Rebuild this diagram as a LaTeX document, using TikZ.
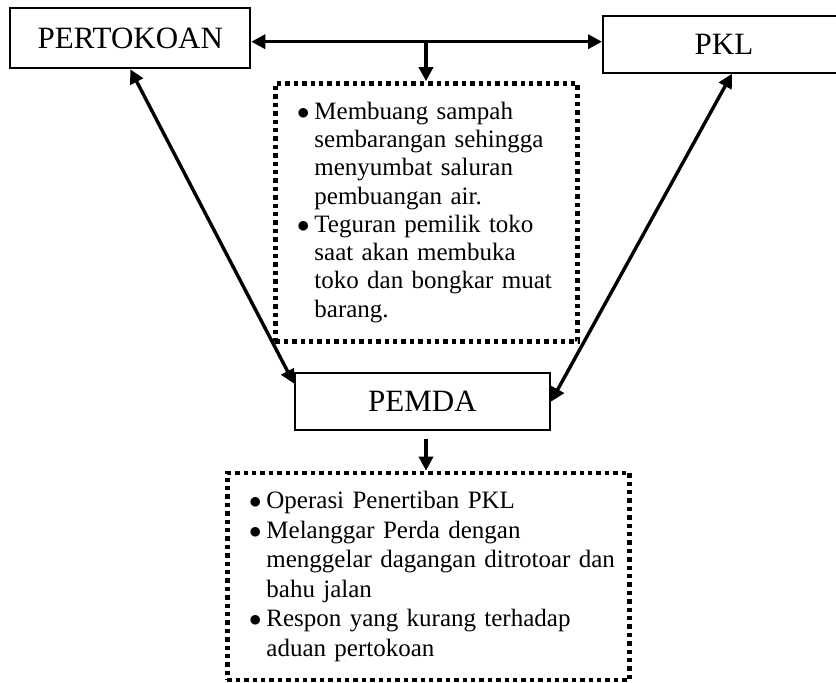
\documentclass[tikz,border=0pt]{standalone}
\usepackage{fontspec}
\setmainfont{Liberation Serif}
\usetikzlibrary{arrows.meta}

\begin{document}
\begin{tikzpicture}[x=1pt, y=-1pt,
  box/.style={draw=black, line width=2pt, minimum height=57pt, inner sep=0pt,
              font=\fontsize{31}{36}\selectfont},
  note/.style={draw=black, line width=4.6pt, dash pattern=on 4.4pt off 4pt,
               align=left, inner xsep=21.7pt, inner ysep=0pt},
  ar/.style={{Triangle[length=14pt,width=14pt]}-{Triangle[length=14pt,width=14pt]}, line width=3.4pt},
  dn/.style={-{Triangle[length=14pt,width=14pt]}, line width=3.4pt}
]
\useasboundingbox (0,0) rectangle (836,683);
\node[box, minimum width=240pt, minimum height=60pt] (pert) at (130.3,38.3) {PERTOKOAN};
\node[box, minimum width=242pt] (pkl) at (724,44.3) {PKL};
\node[box, minimum width=255pt] (pemda) at (422.5,401.7) {PEMDA};
\node[note, text width=259pt, minimum height=258pt, font=\fontsize{25}{28.3}\selectfont] (masalah) at (426.5,212.5)
  {\begin{tabular}{@{}l@{\hspace{5pt}}l@{}}
   $\bullet$ & Membuang sampah\\
             & sembarangan sehingga\\
             & menyumbat saluran\\
             & pembuangan air.\\
   $\bullet$ & Teguran pemilik toko\\
             & saat akan membuka\\
             & toko dan bongkar muat\\
             & barang.
   \end{tabular}};
\node[note, text width=359pt, minimum height=207pt, font=\fontsize{25}{29.5}\selectfont] (tindakan) at (428.5,576.5)
  {\begin{tabular}{@{}l@{\hspace{5pt}}l@{}}
   $\bullet$ & Operasi Penertiban PKL\\
   $\bullet$ & Melanggar Perda dengan\\
             & menggelar dagangan ditrotoar dan\\
             & bahu jalan\\
   $\bullet$ & Respon yang kurang terhadap\\
             & aduan pertokoan
   \end{tabular}};
% arrows between the parties
\coordinate (pisah) at (426,41.7);
\draw[ar] (pert.east |- pisah) -- (pkl.west |- pisah);
\draw[dn] (pisah) -- (pisah |- masalah.north);
\draw[ar] (pert.south) -- (pemda.172);
\draw[ar] (pkl.-75) -- (pemda.east);
\draw[dn, shorten <=8pt] (pemda.south -| pisah) -- (tindakan.north -| pisah);
\end{tikzpicture}
\end{document}
